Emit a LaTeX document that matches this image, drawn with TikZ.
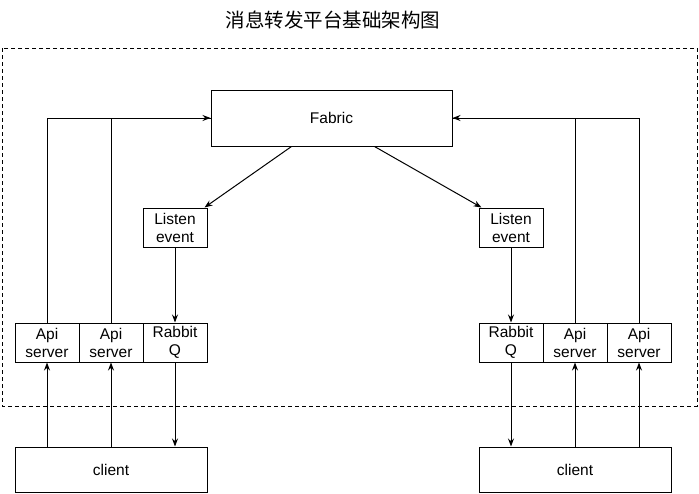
\documentclass[tikz,border=0pt]{standalone}
\usepackage{fontspec}
\setmainfont{Liberation Sans}
\newfontfamily\cjk{Noto Sans CJK SC}
\usetikzlibrary{arrows.meta}
\begin{document}
\begin{tikzpicture}[x=1pt,y=-1pt,
  box/.style={draw,line width=1pt,inner sep=1pt,align=center,font=\fontsize{15.5}{18}\selectfont},
  arr/.style={-{Stealth[length=8pt,width=6pt]},line width=1pt},
  ln/.style={line width=1pt}]
\useasboundingbox (0,0) rectangle (699,493);
\fill[white] (0,0) rectangle (699,493);
\draw[line width=1pt,dash pattern=on 4pt off 3pt] (2,48) rectangle (697,406);
\node[font=\cjk\fontsize{19.5}{22}\selectfont] (title) at (333,20) {消息转发平台基础架构图};
\node[box,minimum width=241,minimum height=56] (fabric) at (331.5,118) {Fabric};
\node[box,minimum width=64,minimum height=39] (lisL) at (175,227.5) {Listen\\event};
\node[box,minimum width=64,minimum height=39] (lisR) at (511,227.5) {Listen\\event};
\node[box,minimum width=64,minimum height=39] (api1) at (47,342.5) {Api\\server};
\node[box,minimum width=64,minimum height=39] (api2) at (111,342.5) {Api\\server};
\node[box,minimum width=64,minimum height=39] (rabL) at (175,342.5) {Rabbit\\Q};
\node[box,minimum width=64,minimum height=39] (rabR) at (511,342.5) {Rabbit\\Q};
\node[box,minimum width=64,minimum height=39] (api3) at (575,342.5) {Api\\server};
\node[box,minimum width=64,minimum height=39] (api4) at (639,342.5) {Api\\server};
\node[box,minimum width=192,minimum height=45] (cliL) at (111,469.5) {client};
\node[box,minimum width=192,minimum height=45] (cliR) at (575,469.5) {client};
% top connectors
\draw[ln] (api1.north) |- (fabric.west);
\draw[arr] (api2.north) |- (fabric.west);
\draw[ln] (api4.north) |- (fabric.east);
\draw[arr] (api3.north) |- (fabric.east);
% fabric to listen
\draw[arr] ([xshift=-40pt]fabric.south) -- ([xshift=-3pt]lisL.north east);
\draw[arr] ([xshift=43pt]fabric.south) -- ([xshift=3pt]lisR.north west);
% listen to rabbit
\draw[arr] (lisL.south) -- (rabL.north);
\draw[arr] (lisR.south) -- (rabR.north);
% rabbit to client
\draw[arr] (rabL.south) -- (rabL.south |- cliL.north);
\draw[arr] (rabR.south) -- (rabR.south |- cliR.north);
% client to api
\draw[arr] (api1.south |- cliL.north) -- (api1.south);
\draw[arr] (api2.south |- cliL.north) -- (api2.south);
\draw[arr] (api3.south |- cliR.north) -- (api3.south);
\draw[arr] (api4.south |- cliR.north) -- (api4.south);
\end{tikzpicture}
\end{document}
